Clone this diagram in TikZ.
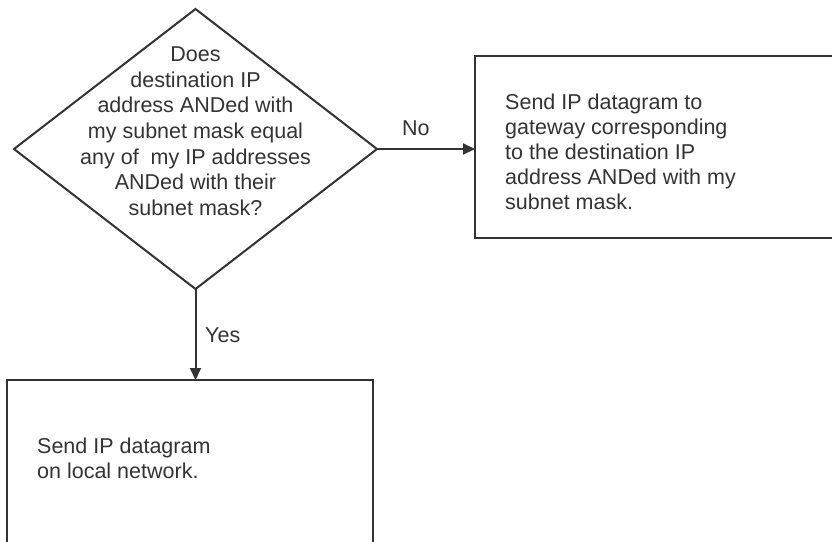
\documentclass[tikz,border=0pt]{standalone}
\usepackage{fontspec}
\setmainfont{Liberation Sans}
\usetikzlibrary{shapes.geometric,arrows.meta}
\definecolor{ink}{HTML}{333333}
\begin{document}
\begin{tikzpicture}[x=1pt,y=-1pt,
  every node/.style={text=ink},
  line/.style={draw=ink,line width=2pt},
  flow/.style={line,-{Triangle[length=12pt,width=11pt]}},
  txt/.style={font=\fontsize{21.5pt}{25pt}\selectfont,inner sep=0pt,align=left},
  ctxt/.style={font=\fontsize{21.5pt}{25.7pt}\selectfont,inner sep=0pt,align=center},
  lbl/.style={font=\fontsize{21.5pt}{25pt}\selectfont,inner sep=0pt}]
\useasboundingbox (0,0) rectangle (832,541);
\clip (0,0) rectangle (832,541);
\node[diamond,line,minimum width=363pt,minimum height=280pt,inner sep=0pt,outer sep=0pt] (dec) at (195.5,149) {};
\node[ctxt,anchor=north] (dectext) at (195.5,46.5) {Does\\destination IP\\address ANDed with\\my subnet mask equal\\any of\ \ my IP addresses\\ANDed with their\\subnet mask?};
\node[rectangle,line,minimum width=375pt,minimum height=182pt,inner sep=0pt,outer sep=0pt] (gw) at (662.5,147) {};
\node[txt,anchor=north west] (gwtext) at (505,93.5) {Send IP datagram to\\gateway corresponding\\to the destination IP\\address ANDed with my\\subnet mask.};
\node[rectangle,line,minimum width=366pt,minimum height=190pt,inner sep=0pt,outer sep=0pt] (loc) at (190,475) {};
\node[txt,anchor=north west] (loctext) at (37,438) {Send IP datagram\\on local network.};
\draw[flow] (dec.east) -- (dec.east -| gw.west);
\draw[flow] (dec.south) -- (dec.south |- loc.north);
\node[lbl,anchor=base west] (no) at (402,135) {No};
\node[lbl,anchor=base west] (yes) at (205,342) {Yes};
\end{tikzpicture}
\end{document}
